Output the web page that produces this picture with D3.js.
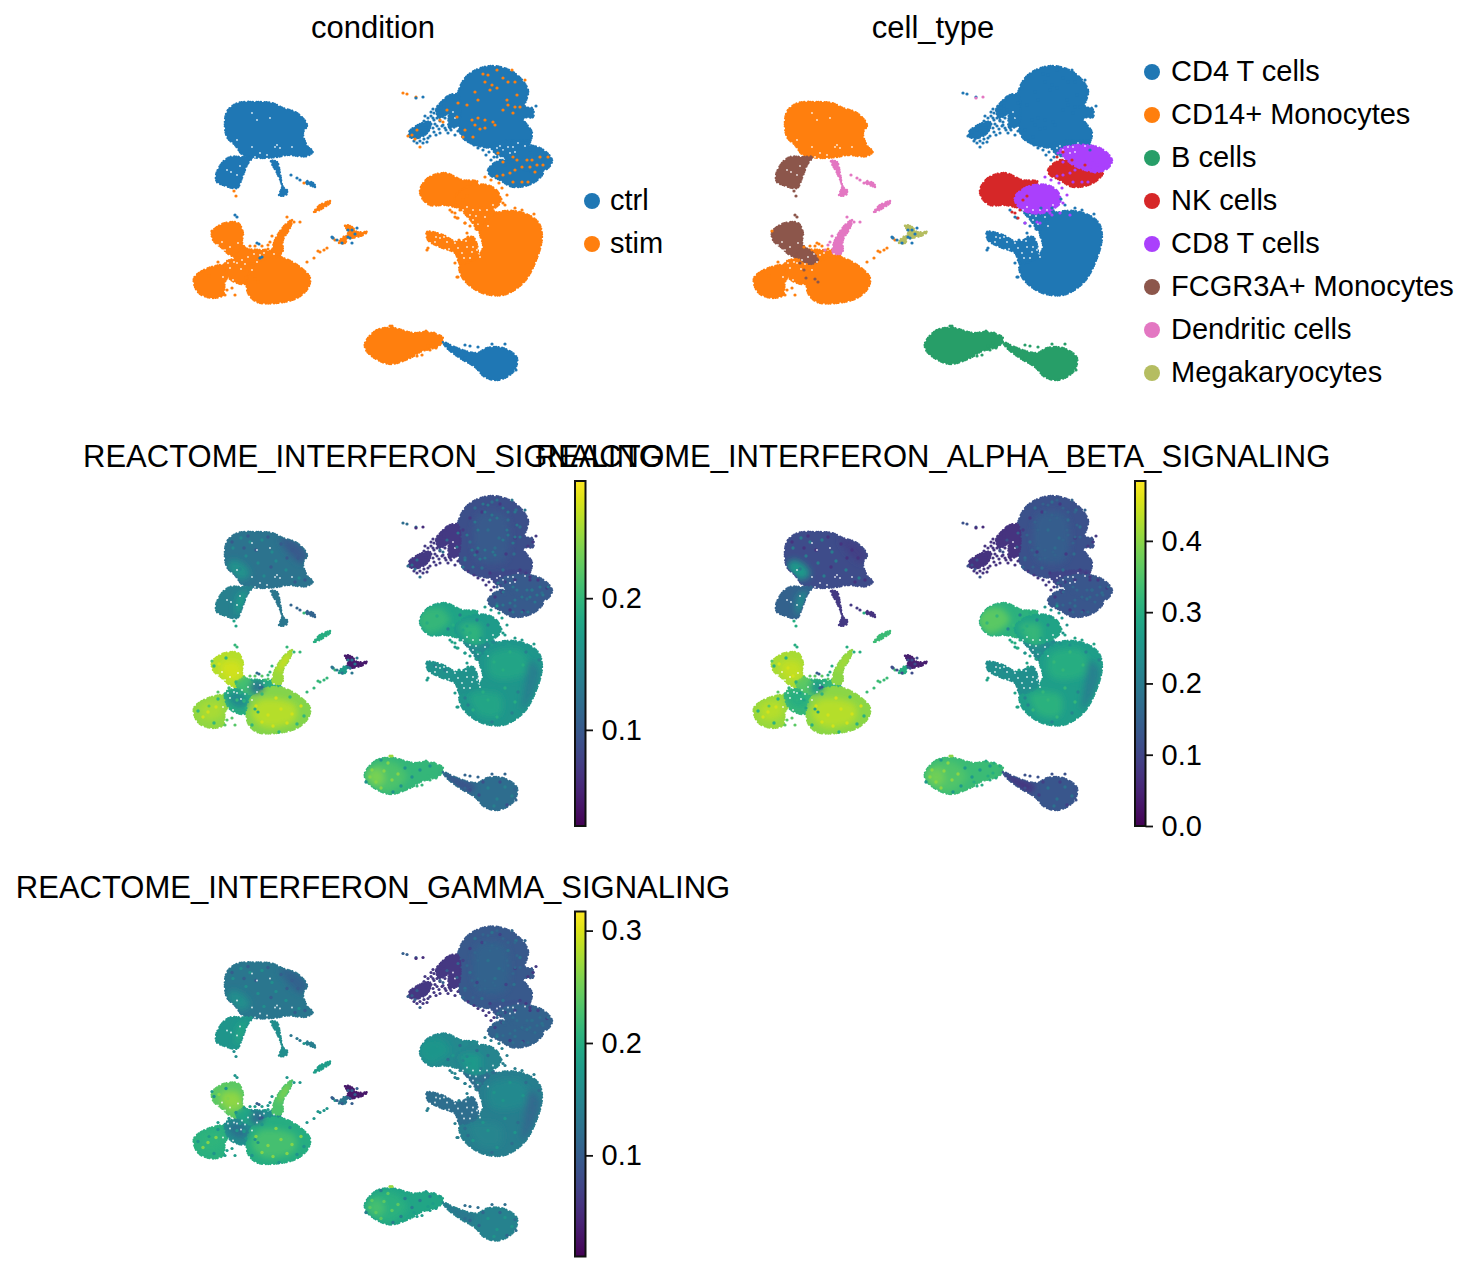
<!DOCTYPE html>
<html><head><meta charset="utf-8">
<script src="https://cdn.jsdelivr.net/npm/d3@7"></script>
<style>html,body{margin:0;background:#fff}svg{display:block}text{font-family:"Liberation Sans",Arial,sans-serif;fill:#000}</style>
</head><body><svg id="c" width="1470" height="1272"></svg>
<script>
// ---------- categories / legends ----------
const conditions = ["ctrl","stim"];
const conditionColors = ["#1f77b4","#ff7f0e"];
const cellTypes = ["CD4 T cells","CD14+ Monocytes","B cells","NK cells","CD8 T cells","FCGR3A+ Monocytes","Dendritic cells","Megakaryocytes"];
const cellTypeColors = ["#1f77b4","#ff7f0e","#279e68","#d62728","#aa40fc","#8c564b","#e377c2","#b5bd61"];
const scoreNames = ["REACTOME_INTERFERON_SIGNALING","REACTOME_INTERFERON_ALPHA_BETA_SIGNALING","REACTOME_INTERFERON_GAMMA_SIGNALING"];
const scoreDomains = [[0.027,0.289],[0,0.484],[0.01,0.317]];
const scoreTicks = [[0.1,0.2],[0,0.1,0.2,0.3,0.4],[0.1,0.2,0.3]];

// ---------- cluster outlines: [condition, cellType, s1, s2, s3, outline] ----------
const clusters = [
 [0,1,.127,.11,.13,[[225,120],[228,110],[238,103],[257,102],[272,103],[283,108],[297,113],[307,125],[303,133],[308,147],[313,151],[307,156],[287,155],[277,157],[260,158],[252,157],[243,155],[235,145],[227,137]]],
 [0,5,.14,.15,.17,[[216,175],[222,163],[230,157],[242,157],[252,157],[247,165],[242,178],[237,188],[223,185],[217,182]]],
 [0,6,.13,.08,.16,[[271,161],[277,162],[280,173],[283,187],[287,190],[286,195],[279,195],[282,187],[277,173]]],
 [0,6,.11,.07,.14,[[307,181],[313,183],[316,187],[312,186],[306,183]]],
 [1,6,.19,.33,.18,[[314,212],[320,205],[331,201],[330,203],[323,208],[315,212]]],
 [1,1,.245,.41,.205,[[194,278],[202,271],[215,266],[225,265],[230,272],[225,282],[223,295],[213,298],[200,294],[195,287]]],
 [1,1,.19,.32,.16,[[225,263],[235,258],[247,250],[260,250],[277,252],[282,263],[253,277],[245,284],[230,279]]],
 [1,1,.24,.40,.2,[[247,280],[252,267],[267,258],[283,258],[300,267],[310,278],[308,288],[297,298],[277,303],[257,302],[248,293]]],
 [1,5,.26,.42,.24,[[212,232],[217,227],[225,223],[238,223],[243,233],[242,242],[245,250],[238,257],[230,255],[222,248],[213,240]]],
 [1,5,.21,.36,.19,[[245,248],[258,260],[250,264],[236,254]]],
 [1,6,.25,.40,.23,[[273,253],[275,240],[285,225],[292,220],[290,228],[283,240],[282,253]]],
 [1,7,.045,.04,.03,[[345,225],[352,227],[357,232],[367,232],[363,235],[352,238],[347,238],[348,232]]],
 [1,7,.17,.3,.13,[[347,237],[345,243],[339,243],[343,237]]],
 [0,0,.09,.12,.095,[[458,93],[468,75],[490,66],[513,72],[528,90],[525,107],[532,108],[533,117],[523,118],[532,133],[527,145],[503,147],[483,147],[463,138],[458,120]]],
 [0,0,.07,.07,.06,[[409,132],[420,124],[430,122],[428,132],[418,138],[410,137]]],
 [0,0,.07,.07,.06,[[436,110],[450,95],[458,95],[458,125],[449,127],[448,114],[440,118]]],
 [0,0,.085,.1,.09,[[490,145],[530,142],[522,152],[500,156]]],
 [0,3,.1,.13,.105,[[488,170],[500,160],[517,163],[543,172],[533,183],[513,187],[500,180],[490,175]]],
 [0,4,.1,.13,.105,[[500,150],[517,145],[540,148],[552,160],[548,168],[537,172],[517,167],[507,160]]],
 [1,3,.18,.31,.155,[[420,190],[428,178],[445,173],[462,180],[478,182],[470,195],[462,207],[445,205],[430,205],[422,198]]],
 [1,0,.15,.23,.12,[[458,203],[483,208],[497,213],[490,228],[480,232],[472,222]]],
 [1,4,.17,.28,.15,[[455,197],[467,187],[487,185],[498,192],[500,203],[483,213],[467,212],[457,205]]],
 [1,0,.165,.27,.14,[[480,230],[497,213],[520,212],[538,222],[542,237],[535,263],[523,283],[503,295],[480,292],[462,277],[460,263],[477,257],[483,247]]],
 [1,0,.16,.24,.12,[[427,232],[443,235],[457,242],[473,237],[477,257],[460,263],[455,253],[440,247],[428,240]]],
 [1,2,.2,.33,.19,[[365,343],[377,330],[393,328],[413,333],[427,332],[443,338],[440,345],[420,352],[410,358],[390,364],[373,357],[366,350]]],
 [0,2,.12,.13,.145,[[443,342],[457,348],[477,353],[487,348],[503,348],[517,358],[513,372],[498,380],[485,377],[475,367],[460,358],[447,348]]]
];

// ---------- brighter / darker score zones: [s1, s2, s3, outline] ----------
const scoreZones = [
 [.16,.26,.16,[[227,137],[232,130],[245,135],[250,145],[240,150],[233,145]]],
 [.1,.09,.105,[[280,108],[297,113],[307,125],[303,133],[290,125]]],
 [.17,.23,.19,[[238,165],[247,162],[243,178],[237,185]]],
 [.27,.44,.265,[[222,233],[238,232],[242,245],[232,250],[222,243]]],
 [.255,.43,.21,[[200,275],[220,272],[222,285],[205,290]]],
 [.26,.43,.225,[[260,270],[295,275],[295,290],[265,297],[252,285]]],
 [.15,.3,.125,[[228,265],[240,262],[248,275],[235,277]]],
 [.13,.26,.12,[[255,250],[262,252],[262,262],[250,262]]],
 [.27,.42,.26,[[285,225],[291,222],[288,232],[282,240],[278,240]]],
 [.215,.35,.205,[[365,343],[380,332],[395,333],[407,347],[390,362],[373,357]]],
 [.235,.38,.225,[[367,345],[378,338],[385,350],[375,356]]],
 [.2,.36,.17,[[418,190],[425,180],[440,178],[450,190],[440,200],[428,203]]],
 [.195,.32,.175,[[460,195],[480,195],[478,215],[465,207]]],
 [.18,.3,.155,[[490,225],[520,220],[530,240],[505,250],[490,245]]],
 [.18,.31,.15,[[470,265],[500,265],[500,285],[480,285]]],
 [.14,.21,.115,[[530,230],[540,240],[533,265],[522,280],[525,250]]],
 [.1,.14,.105,[[478,85],[505,85],[505,130],[478,130]]],
 [.09,.07,.13,[[443,342],[457,348],[475,357],[470,362],[457,356],[447,348]]]
];

// ---------- score mottling read by eye in the score panels: [s1, s2, s3, points] ----------
const scoreSpecks = [
 [.15,.2,.16,[[233,118],[246,126],[258,133],[272,122],[286,140],[264,146],[250,112],[240,139],[299,148],[276,131],[241,108],[262,110]]],
 [.1,.07,.1,[[232,112],[248,106],[268,107],[281,114],[292,120],[298,128],[256,120],[271,137],[287,128],[305,150],[244,118],[295,152]]],
 [.27,.45,.26,[[256,276],[268,285],[281,279],[292,284],[273,296],[262,292],[287,293],[301,276],[276,268],[208,282],[216,277],[203,287],[228,238],[233,246],[219,234]]],
 [.2,.31,.17,[[262,264],[290,267],[304,286],[252,295],[279,302],[297,294],[244,271],[237,270],[229,258],[214,293],[198,281],[218,269],[226,228],[214,236],[236,252]]],
 [.19,.32,.17,[[494,232],[510,222],[523,235],[488,270],[505,258],[473,280],[497,287],[515,272],[503,240],[483,262],[470,203],[453,195],[437,186],[427,193]]],
 [.14,.22,.12,[[530,252],[535,243],[518,262],[526,222],[512,283],[492,292],[468,275],[465,268],[445,240],[435,236],[488,195],[477,190],[460,185],[448,199],[539,230]]],
 [.24,.4,.24,[[370,347],[376,352],[384,341],[392,350],[381,358],[398,344],[372,340],[388,333]]],
 [.16,.26,.14,[[405,338],[420,340],[412,347],[401,356],[393,362],[430,336],[366,352],[381,330]]],
 [.12,.17,.125,[[475,78],[492,72],[508,90],[520,97],[488,100],[470,112],[495,118],[514,124],[482,138],[503,140],[465,128],[516,80],[499,108],[532,160],[515,176],[527,169],[497,174],[542,163]]],
 [.07,.08,.07,[[470,88],[482,82],[500,74],[515,108],[463,100],[477,122],[506,124],[520,140],[490,143],[505,152],[495,167],[510,180],[523,181],[538,150],[547,158],[530,147],[502,162],[515,150]]],
 [.14,.18,.17,[[488,358],[497,369],[505,357],[512,366],[494,376]]],
 [.09,.09,.11,[[483,352],[500,352],[479,365],[507,375],[470,360]]]
];

// ---------- single cells picked out by eye: [condition, cellType, s1, s2, s3, points] ----------
const cells = [
 [1,0,.13,.15,.11,[[483,74],[488,75],[497,70],[503,78],[508,82],[515,82],[512,70],[485,82],[475,92],[492,85],[490,90],[497,88],[507,100],[513,113],[520,107],[517,95],[478,100],[467,105],[472,120],[478,118],[485,120],[475,125],[480,129],[485,128],[465,130],[473,137],[463,137],[493,122],[495,125],[508,105],[503,110],[515,107],[525,80],[458,103],[457,117]]],
 [1,4,.13,.16,.12,[[532,160],[537,165],[530,167],[535,172],[527,160],[522,167],[515,170],[510,173],[503,175],[528,182],[522,182],[540,157],[548,157],[517,160],[503,162],[498,153],[513,157],[543,165],[513,182]]],
 [0,0,.07,.07,.06,[[424,121],[428,118],[431,116],[434,113],[437,111],[426,127],[431,124],[434,120],[437,118],[440,121],[443,125],[437,126],[433,128],[428,131],[422,134],[424,139],[427,142],[430,136],[434,132],[439,129],[445,128],[450,128],[454,127],[446,130],[442,115],[445,118],[444,106],[441,108],[438,113],[425,125],[420,141],[417,143],[414,141],[423,143],[428,138],[436,135],[440,133],[448,133],[455,135],[445,100],[447,97],[441,104],[433,118],[429,128],[435,124],[442,126],[451,130],[458,131],[421,128],[418,126],[425,116],[433,109],[438,106],[431,112]]],
 [1,0,.12,.12,.1,[[447,110],[440,120],[443,122],[417,130],[412,135],[408,136],[415,139],[420,147],[403,93],[407,94],[416,97]]],
 [0,0,.07,.08,.06,[[468,141],[474,145],[483,150],[489,152],[494,157],[536,106],[533,112],[528,116],[478,148],[486,155],[491,160],[530,150],[526,143]]],
 [0,6,.06,.06,.05,[[416,98],[423,97]]],
 [1,5,.18,.3,.16,[[234,191],[236,196]]],
 [0,5,.2,.3,.17,[[235,215],[237,217]]],
 [0,1,.12,.14,.1,[[257,243],[259,244],[260,258],[262,257]]],
 [0,6,.11,.08,.13,[[291,175],[297,178],[300,180]]],
 [1,6,.2,.3,.17,[[304,183],[287,217],[294,222],[300,222],[265,250],[270,242],[272,236],[268,245]]],
 [1,1,.2,.33,.17,[[307,262],[314,258],[318,251],[320,252],[324,250],[327,248],[333,238],[335,240]]],
 [0,0,.13,.11,.1,[[332,237],[333,238],[337,240],[352,243],[342,243],[350,238],[355,234],[348,230],[352,230],[357,228],[348,237]]],
 [1,1,.22,.36,.18,[[227,290],[232,288],[235,295],[225,295],[218,262],[212,231],[209,276],[255,246],[262,246],[268,249],[250,246],[244,247]]],
 [1,5,.19,.28,.17,[[240,263],[244,270],[246,278],[255,279],[258,282]]],
 [1,0,.17,.28,.14,[[467,233],[468,237],[459,240],[455,263],[457,277],[458,277],[465,223],[455,217],[457,218],[450,210],[428,248],[427,250],[501,199],[505,205],[508,214],[515,208],[522,210],[534,214],[487,222],[492,208],[481,208],[470,226],[476,229]]],
 [1,4,.17,.25,.14,[[465,223],[477,222],[480,223],[490,213],[503,203],[507,195],[510,215],[500,213],[491,180],[502,188],[492,215],[497,176],[499,183],[485,177],[491,187]]],
 [1,3,.18,.3,.15,[[452,212],[455,213],[458,218],[460,210],[470,183],[467,196],[463,200]]],
 [0,3,.1,.13,.105,[[497,157],[505,165],[512,160],[525,165],[503,152]]],
 [1,2,.25,.4,.27,[[390,326],[392,326]]],
 [1,2,.2,.3,.18,[[417,356],[422,355],[430,350],[436,348],[428,346],[433,343],[426,331],[434,333],[440,336],[414,352]]],
 [0,2,.11,.12,.12,[[465,345],[470,346],[492,344],[505,344],[515,359],[516,370],[478,347],[465,358]]]
];

// ---------- holes in the clouds, where the white page shows through: [x, y] ----------
const gaps = [[453,112],[455,118],
 [497,148],[503,150],[510,153],[513,147],[503,158],[497,160],[518,143],[508,147],[490,149],[525,146],[500,146],[515,152],
 [473,247],[477,250],[467,247],[470,258],[462,253],[480,257],[440,238],[447,242],[455,243],[435,242],[449,249],[466,241],[472,252],[458,248],[444,237],[436,237],[464,258],
 [467,207],[473,210],[463,210],[480,210],[487,210],[470,215],[493,205],[476,216],[485,217],[478,224],[488,226],[473,220],
 [230,268],[237,263],[248,257],[257,262],[242,260],[252,270],[260,255],[268,250],[222,242],[218,245],[230,247],[225,250],[238,243],[234,262],[241,269],[264,253],[274,254],[245,264],[254,254],[228,263],
 [252,113],[257,120],[270,118],[275,147],[280,148],[292,147],[252,147],[237,140],[255,157],[260,153],[267,155],[277,145],
 [227,283],[233,280],[223,277],[237,287],[231,172],[227,170],[240,166],[237,175],[232,290]];

// ---------- drawing ----------
const svg = d3.select("#c");
const domX = [180,560], domY = [60,385];
const panels = [
 {title:"condition", ox:0, oy:0, ty:28, kind:"cond"},
 {title:"cell_type", ox:560, oy:0, ty:28, kind:"type"},
 {title:scoreNames[0], ox:0, oy:430, ty:457, kind:0},
 {title:scoreNames[1], ox:560, oy:430, ty:457, kind:1},
 {title:scoreNames[2], ox:0, oy:860.5, ty:888, kind:2}
];
const defs = svg.append("defs");
defs.append("filter").attr("id","soft").attr("x","-30%").attr("y","-30%").attr("width","160%").attr("height","160%")
  .append("feGaussianBlur").attr("stdDeviation",3);
panels.forEach((p,pi)=>{
  const x = d3.scaleLinear().domain(domX).range([domX[0]+p.ox, domX[1]+p.ox]);
  const y = d3.scaleLinear().domain(domY).range([domY[0]+p.oy, domY[1]+p.oy]);
  const line = d3.line().x(d=>x(d[0])).y(d=>y(d[1])).curve(d3.curveCatmullRomClosed.alpha(0.5));
  const isScore = typeof p.kind === "number";
  const cs = isScore ? d3.scaleSequential(d3.interpolateViridis).domain(scoreDomains[p.kind]) : null;
  const colorOf = r => p.kind==="cond" ? conditionColors[r[0]] : p.kind==="type" ? cellTypeColors[r[1]] : cs(r[2+p.kind]);
  const g = svg.append("g");
  g.selectAll("path.blob").data(clusters).join("path").attr("class","blob")
    .attr("d",d=>line(d[5])).attr("fill",colorOf).attr("stroke",colorOf)
    .attr("stroke-width",2.4).attr("stroke-linecap","round").attr("stroke-dasharray","0.1 2.3 0.1 3.7 0.1 1.9");
  if(isScore){
    const clipId = "clip"+pi;
    const clip = defs.append("clipPath").attr("id",clipId);
    clusters.forEach(c=>clip.append("path").attr("d",line(c[5])));
    g.append("g").attr("clip-path",`url(#${clipId})`).append("g").attr("filter","url(#soft)")
      .selectAll("path.zone").data(scoreZones).join("path").attr("class","zone")
      .attr("d",d=>line(d[3])).attr("fill",d=>cs(d[p.kind]));
    const specks = scoreSpecks.flatMap(s=>s[3].map(pt=>({s,pt})));
    g.selectAll("circle.speck").data(specks).join("circle").attr("class","speck")
      .attr("cx",d=>x(d.pt[0])).attr("cy",d=>y(d.pt[1])).attr("r",1.7).attr("fill",d=>cs(d.s[p.kind]));
  }
  g.selectAll("circle.gap").data(gaps).join("circle").attr("class","gap")
    .attr("cx",d=>x(d[0])).attr("cy",d=>y(d[1])).attr("r",0.9).attr("fill","#fff").attr("fill-opacity",.85);
  const flat = cells.flatMap(c=>c[5].map(pt=>({c,pt})));
  g.selectAll("circle.cell").data(flat).join("circle").attr("class","cell")
    .attr("cx",d=>x(d.pt[0])).attr("cy",d=>y(d.pt[1])).attr("r",1.6).attr("fill",d=>colorOf(d.c));
  // title
  svg.append("text").attr("x",373+p.ox).attr("y",p.ty+10).attr("text-anchor","middle").attr("font-size",31).text(p.title);
  // colorbar
  if(isScore){
    const top = 481+p.oy-430, bottom = 826+p.oy-430;
    const left = 575+p.ox;
    const gid = "vir"+pi;
    const lg = defs.append("linearGradient").attr("id",gid).attr("x1",0).attr("y1",1).attr("x2",0).attr("y2",0);
    d3.range(0,1.001,0.05).forEach(t=>lg.append("stop").attr("offset",t).attr("stop-color",d3.interpolateViridis(t)));
    svg.append("rect").attr("x",left).attr("y",top).attr("width",10.5).attr("height",bottom-top)
      .attr("fill",`url(#${gid})`).attr("stroke","#111").attr("stroke-width",2);
    const sc = d3.scaleLinear().domain(scoreDomains[p.kind]).range([bottom,top]);
    const ax = svg.append("g").attr("transform",`translate(${left+10.5},0)`)
      .call(d3.axisRight(sc).tickValues(scoreTicks[p.kind]).tickFormat(d3.format(".1f")).tickSize(7.5).tickPadding(8.5));
    ax.select(".domain").remove();
    ax.selectAll("line").attr("stroke","#111").attr("stroke-width",1.8);
    ax.selectAll("text").attr("font-size",29).attr("font-family",'"Liberation Sans",Arial,sans-serif').attr("fill","#000");
  }
});
// legends
function legend(names, colors, dotX, textX, y0, dy){
  const g = svg.append("g");
  names.forEach((n,i)=>{
    g.append("circle").attr("cx",dotX).attr("cy",y0+i*dy).attr("r",8).attr("fill",colors[i]);
    g.append("text").attr("x",textX).attr("y",y0+i*dy+9).attr("font-size",29).text(n);
  });
}
legend(conditions,conditionColors,592,610,201,43);
legend(cellTypes,cellTypeColors,1152,1171,72,43);
</script></body></html>
